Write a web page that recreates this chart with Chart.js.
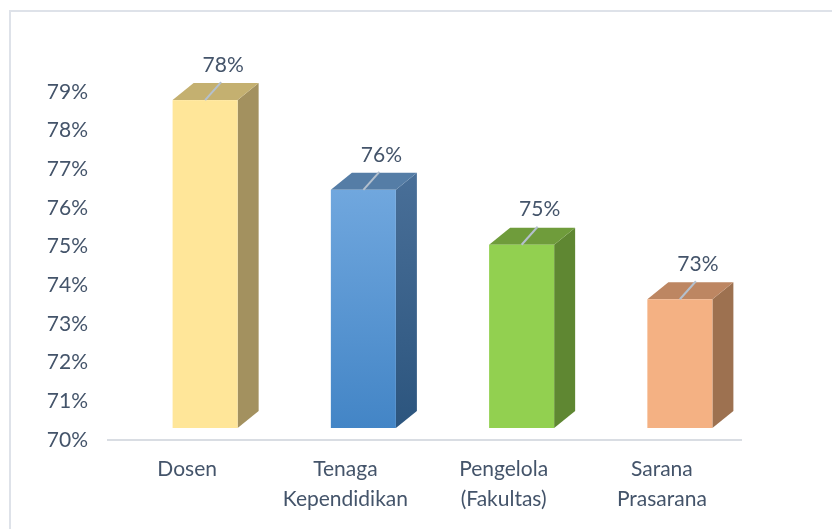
<!DOCTYPE html>
<html>
<head>
<meta charset="utf-8">
<script src="https://cdn.jsdelivr.net/npm/chart.js@4.4.1/dist/chart.umd.min.js"></script>
<style>
  html, body { margin: 0; padding: 0; background: #ffffff; }
  #wrap { position: relative; width: 832px; height: 529px; overflow: hidden; }
  #frame { position: absolute; left: 9px; top: 10px; width: 900px; height: 600px;
           border-left: 2px solid #DEE2E9; border-top: 2px solid #DEE2E9; box-sizing: border-box; }
  canvas { position: absolute; left: 0; top: 0; }
</style>
</head>
<body>
<div id="wrap">
  <div id="frame"></div>
  <canvas id="c" width="832" height="529"></canvas>
</div>
<script>
const categories = [['Dosen'], ['Tenaga', 'Kependidikan'], ['Pengelola', '(Fakultas)'], ['Sarana', 'Prasarana']];
const values = [78.48, 76.16, 74.74, 73.33];
const valueLabels = ['78%', '76%', '75%', '73%'];
const yMin = 70, yMax = 79, yStep = 1;

const frontTop = ['#FFE699', '#70A7DE', '#92D050', '#F4B183'];
const frontBottom = ['#FFE699', '#4385C6', '#92D050', '#F4B183'];
const topColors = ['#C4B070', '#557DA6', '#6F9C3B', '#BD8662'];
const sideTop = ['#A3915F', '#496F98', '#5F8732', '#9D7150'];
const sideBottom = ['#A3915F', '#2C557E', '#5F8732', '#9D7150'];

const textColor = '#44546A';
const FONT = 'Lato, "Open Sans", sans-serif';

const box3d = {
  id: 'box3d',
  afterDatasetsDraw(chart) {
    const ctx = chart.ctx;
    const meta = chart.getDatasetMeta(0);
    const ys = chart.scales.y;
    const dx = 21, dy = -17, lift = 12, shift = 18;
    meta.data.forEach((bar, i) => {
      const w = bar.width;
      const cx = bar.x + shift;
      const left = cx - w / 2, right = cx + w / 2;
      const top = bar.y - lift;
      const bottom = ys.getPixelForValue(yMin) - lift;
      ctx.save();
      const sg = ctx.createLinearGradient(0, top + dy, 0, bottom);
      sg.addColorStop(0, sideTop[i]); sg.addColorStop(1, sideBottom[i]);
      ctx.fillStyle = sg;
      ctx.beginPath();
      ctx.moveTo(right, top); ctx.lineTo(right + dx, top + dy);
      ctx.lineTo(right + dx, bottom + dy); ctx.lineTo(right, bottom); ctx.closePath();
      ctx.fill();
      ctx.fillStyle = topColors[i];
      ctx.beginPath();
      ctx.moveTo(left, top); ctx.lineTo(left + dx, top + dy);
      ctx.lineTo(right + dx, top + dy); ctx.lineTo(right, top); ctx.closePath();
      ctx.fill();
      const fg = ctx.createLinearGradient(0, top, 0, bottom);
      fg.addColorStop(0, frontTop[i]); fg.addColorStop(1, frontBottom[i]);
      ctx.fillStyle = fg;
      ctx.fillRect(left, top, w, bottom - top);
      ctx.strokeStyle = '#B4C0CE';
      ctx.lineWidth = 2;
      ctx.beginPath();
      ctx.moveTo(cx, top); ctx.lineTo(cx + 16, top - 18);
      ctx.stroke();
      ctx.fillStyle = textColor;
      ctx.font = '21px ' + FONT;
      ctx.textAlign = 'center';
      ctx.textBaseline = 'middle';
      ctx.fillText(valueLabels[i], cx + 18, top - 35);
      ctx.restore();
    });
  }
};

new Chart(document.getElementById('c'), {
  type: 'bar',
  data: {
    labels: categories,
    datasets: [{
      data: values,
      backgroundColor: 'rgba(0,0,0,0)',
      borderWidth: 0,
      barPercentage: 0.411,
      categoryPercentage: 1.0
    }]
  },
  options: {
    responsive: false,
    animation: false,
    devicePixelRatio: 1,
    layout: { padding: { left: 0, right: 91, top: 92, bottom: 0 } },
    plugins: { legend: { display: false }, tooltip: { enabled: false } },
    scales: {
      x: {
        grid: { display: false, drawTicks: false },
        border: { display: true, color: '#D9DDE3', width: 2 },
        ticks: { color: textColor, font: { family: FONT, size: 21, lineHeight: 1.43 }, padding: 14, maxRotation: 0, autoSkip: false },
        afterFit(scale) { scale.height = 89; }
      },
      y: {
        min: yMin, max: yMax,
        grid: { display: false, drawTicks: false },
        border: { display: false },
        ticks: { stepSize: yStep, color: textColor, font: { family: FONT, size: 21 }, padding: 20,
                 callback: (v) => v + '%' },
        afterFit(scale) { scale.width = 108; }
      }
    }
  },
  plugins: [box3d]
});
</script>
</body>
</html>
